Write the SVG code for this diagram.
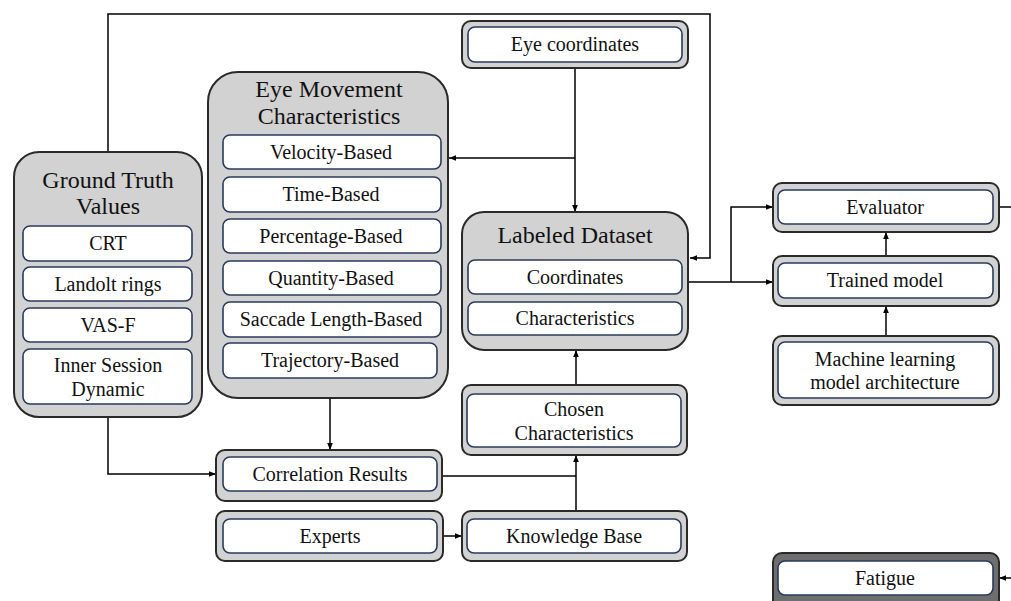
<svg xmlns="http://www.w3.org/2000/svg" width="1011" height="601" viewBox="0 0 1011 601">
<defs>
<marker id="ah" viewBox="0 0 10 10" refX="10" refY="5" markerWidth="7" markerHeight="7" markerUnits="userSpaceOnUse" orient="auto">
<path d="M0,1 L10,5 L0,9 z" fill="#000"/>
</marker>
<style>
.outer{fill:#d2d2d2;stroke:#2a2a2a;stroke-width:2}
.dark{fill:#6e6e6e;stroke:#2a2a2a;stroke-width:2}
.inner{fill:#fff;stroke:#2b3a5c;stroke-width:1.6}
.t{font-family:"Liberation Serif",serif;font-size:20px;fill:#111;text-anchor:middle}
.h{font-family:"Liberation Serif",serif;font-size:24px;fill:#111;text-anchor:middle}
.c{fill:none;stroke:#000;stroke-width:1.5}
</style>
</defs>
<rect width="1011" height="601" fill="#fff"/>
<g id="connectors">
<path class="c" d="M108,152 V14 H710 V258 H690" marker-end="url(#ah)"/>
<path class="c" d="M108,417 V474 H216" marker-end="url(#ah)"/>
<path class="c" d="M575,68 V212" marker-end="url(#ah)"/>
<path class="c" d="M575,158 H449" marker-end="url(#ah)"/>
<path class="c" d="M330,398 V450" marker-end="url(#ah)"/>
<path class="c" d="M442,476 H576"/>
<path class="c" d="M576,511 V455" marker-end="url(#ah)"/>
<path class="c" d="M576,385 V350" marker-end="url(#ah)"/>
<path class="c" d="M443,536 H462" marker-end="url(#ah)"/>
<path class="c" d="M688,282 H773" marker-end="url(#ah)"/>
<path class="c" d="M731,282 V207 H773" marker-end="url(#ah)"/>
<path class="c" d="M886,256 V232" marker-end="url(#ah)"/>
<path class="c" d="M886,336 V306" marker-end="url(#ah)"/>
<path class="c" d="M999,207 H1011"/>
<path class="c" d="M1011,578 H999" marker-end="url(#ah)"/>
</g>
<g id="ground-truth">
<rect class="outer" x="14" y="152" width="188" height="265" rx="25"/>
<text class="h" x="108" y="188">Ground Truth</text>
<text class="h" x="108" y="214">Values</text>
<rect class="inner" x="23" y="226" width="169" height="35" rx="7"/>
<text class="t" x="108" y="250">CRT</text>
<rect class="inner" x="23" y="267" width="169" height="34" rx="7"/>
<text class="t" x="108" y="291">Landolt rings</text>
<rect class="inner" x="23" y="308" width="169" height="34" rx="7"/>
<text class="t" x="108" y="332">VAS-F</text>
<rect class="inner" x="23" y="349" width="169" height="55" rx="7"/>
<text class="t" x="108" y="372">Inner Session</text>
<text class="t" x="108" y="396">Dynamic</text>
</g>
<g id="eye-movement">
<rect class="outer" x="208" y="72" width="240" height="326" rx="30"/>
<text class="h" x="329" y="97">Eye Movement</text>
<text class="h" x="329" y="124">Characteristics</text>
<rect class="inner" x="223" y="135" width="218" height="34" rx="7"/>
<text class="t" x="331" y="159">Velocity-Based</text>
<rect class="inner" x="223" y="177" width="218" height="35" rx="7"/>
<text class="t" x="331" y="201">Time-Based</text>
<rect class="inner" x="223" y="219" width="218" height="34" rx="7"/>
<text class="t" x="331" y="243">Percentage-Based</text>
<rect class="inner" x="223" y="261" width="218" height="34" rx="7"/>
<text class="t" x="331" y="285">Quantity-Based</text>
<rect class="inner" x="223" y="302" width="218" height="35" rx="7"/>
<text class="t" x="331" y="326">Saccade Length-Based</text>
<rect class="inner" x="223" y="343" width="214" height="35" rx="7"/>
<text class="t" x="330" y="367">Trajectory-Based</text>
</g>
<g id="eye-coordinates">
<rect class="outer" x="462" y="21" width="226" height="47" rx="9"/>
<rect class="inner" x="468" y="27" width="214" height="35" rx="7"/>
<text class="t" x="575" y="51">Eye coordinates</text>
</g>
<g id="labeled-dataset">
<rect class="outer" x="462" y="212" width="226" height="138" rx="22"/>
<text class="h" x="575" y="243">Labeled Dataset</text>
<rect class="inner" x="468" y="260" width="214" height="34" rx="7"/>
<text class="t" x="575" y="284">Coordinates</text>
<rect class="inner" x="468" y="302" width="214" height="33" rx="7"/>
<text class="t" x="575" y="325">Characteristics</text>
</g>
<g id="chosen-characteristics">
<rect class="outer" x="462" y="385" width="225" height="70" rx="9"/>
<rect class="inner" x="467" y="394" width="214" height="53" rx="7"/>
<text class="t" x="574" y="416">Chosen</text>
<text class="t" x="574" y="440">Characteristics</text>
</g>
<g id="correlation-results">
<rect class="outer" x="216" y="450" width="226" height="51" rx="9"/>
<rect class="inner" x="223" y="457" width="214" height="34" rx="7"/>
<text class="t" x="330" y="481">Correlation Results</text>
</g>
<g id="experts">
<rect class="outer" x="216" y="511" width="227" height="50" rx="9"/>
<rect class="inner" x="223" y="519" width="214" height="34" rx="7"/>
<text class="t" x="330" y="543">Experts</text>
</g>
<g id="knowledge-base">
<rect class="outer" x="462" y="511" width="225" height="50" rx="9"/>
<rect class="inner" x="467" y="519" width="214" height="34" rx="7"/>
<text class="t" x="574" y="543">Knowledge Base</text>
</g>
<g id="evaluator">
<rect class="outer" x="773" y="183" width="226" height="49" rx="9"/>
<rect class="inner" x="778" y="190" width="215" height="34" rx="7"/>
<text class="t" x="885" y="214">Evaluator</text>
</g>
<g id="trained-model">
<rect class="outer" x="773" y="256" width="226" height="50" rx="9"/>
<rect class="inner" x="778" y="263" width="215" height="35" rx="7"/>
<text class="t" x="885" y="287">Trained model</text>
</g>
<g id="ml-architecture">
<rect class="outer" x="773" y="336" width="226" height="69" rx="9"/>
<rect class="inner" x="778" y="342" width="215" height="56" rx="7"/>
<text class="t" x="885" y="366">Machine learning</text>
<text class="t" x="885" y="389">model architecture</text>
</g>
<g id="fatigue">
<rect class="dark" x="773" y="553" width="226" height="60" rx="9"/>
<rect class="inner" x="778" y="561" width="215" height="34" rx="7"/>
<text class="t" x="885" y="585">Fatigue</text>
</g>
</svg>
